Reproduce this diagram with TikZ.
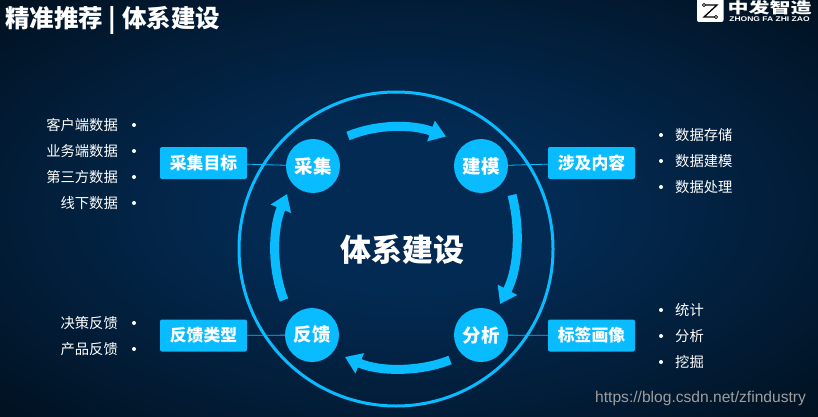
\documentclass[tikz,border=0pt]{standalone}
\usepackage{graphicx}
\usepackage{fontspec}
\setmainfont{Noto Sans CJK SC}
\setsansfont{Liberation Sans}
\usetikzlibrary{arrows.meta}
\definecolor{cyanb}{HTML}{08BCFF}
\definecolor{bgin}{HTML}{032A52}
\definecolor{bgout}{HTML}{000508}
\pgfdeclareradialshading{bgshade}{\pgfpoint{0bp}{0bp}}{color(0bp)=(bgin); color(10bp)=(bgin); color(24bp)=(bgout!35!bgin); color(38bp)=(bgout!75!bgin); color(50bp)=(bgout); color(100bp)=(bgout)}
\tikzset{
  x=1pt,y=-1pt,
  hub/.style={circle,fill=cyanb,minimum size=54pt,inner sep=0pt,text=white,font=\fontsize{18.5}{18.5}\selectfont\bfseries},
  tag/.style={rectangle,rounded corners=2pt,fill=cyanb,minimum width=87pt,minimum height=32pt,inner sep=0pt,text=white,font=\fontsize{16.8}{17}\selectfont\bfseries},
  link/.style={draw=cyanb,line width=0.8pt},
  flow/.style={draw=cyanb,line width=9pt,-{Triangle[length=16pt,width=21pt]}},
  lbl/.style={text=white,inner sep=0pt,font=\fontsize{14.3}{14.3}\selectfont},
  dot/.style={circle,fill=white,minimum size=4pt,inner sep=0pt},
}
\begin{document}
\begin{tikzpicture}
\useasboundingbox (0,0) rectangle (818,417);
\begin{scope}
\clip (0,0) rectangle (818,417);
\shade[shading=bgshade] (0,0) rectangle (818,417);

% big ring
\node[circle,draw=cyanb,line width=3pt,minimum size=314pt,inner sep=0pt] (ring) at (396,249) {};

% hubs
\node[hub] (cj) at (313,166) {采集};
\node[hub] (jm) at (481,166) {建模};
\node[hub] (fx) at (481,335) {分析};
\node[hub] (fk) at (312,335) {反馈};

% tags
\node[tag] (t1) at (203.5,163) {采集目标};
\node[tag] (t2) at (591.5,163) {涉及内容};
\node[tag] (t3) at (203.5,335.5) {反馈类型};
\node[tag] (t4) at (591.5,335.5) {标签画像};
\draw[link] (t1) -- (cj);
\draw[link] (t2) -- (jm);
\draw[link] (t3) -- (fk);
\draw[link] (t4) -- (fx);

% flow arrows
\coordinate (a1) at (348,136);
\coordinate (a2) at (446,136.5);
\coordinate (b1) at (512,195);
\coordinate (b2) at (500,304);
\coordinate (c1) at (450,360);
\coordinate (c2) at (345,357);
\coordinate (d1) at (284,300);
\coordinate (d2) at (287,194);
\draw[flow] (a1) .. controls (377,124) and (412,124) .. (a2);
\draw[flow] (b1) .. controls (521,230) and (518,270) .. (b2);
\draw[flow] (c1) .. controls (420,372) and (380,372) .. (c2);
\draw[flow] (d1) .. controls (272,270) and (272,230) .. (d2);

% centre title
\node[text=white,inner sep=0pt,font=\fontsize{31}{31}\selectfont\bfseries] (ctr) at (402,250) {体系建设};

% left lists
\node[lbl,anchor=east] (l1) at (118,125.5) {客户端数据};
\node[lbl,anchor=east] (l2) at (118,151.5) {业务端数据};
\node[lbl,anchor=east] (l3) at (118,177.5) {第三方数据};
\node[lbl,anchor=east] (l4) at (118,203.5) {线下数据};
\node[dot] at (134,125) {};
\node[dot] at (134,151) {};
\node[dot] at (134,177) {};
\node[dot] at (134,203) {};
\node[lbl,anchor=east] (l5) at (118,323.5) {决策反馈};
\node[lbl,anchor=east] (l6) at (118,349.5) {产品反馈};
\node[dot] at (134,323) {};
\node[dot] at (134,349) {};

% right lists
\node[dot] at (661,135) {};
\node[dot] at (661,161) {};
\node[dot] at (661,187) {};
\node[lbl,anchor=west] (r1) at (675,135.5) {数据存储};
\node[lbl,anchor=west] (r2) at (675,161.5) {数据建模};
\node[lbl,anchor=west] (r3) at (675,187.5) {数据处理};
\node[dot] at (661,310) {};
\node[dot] at (661,336) {};
\node[dot] at (661,362) {};
\node[lbl,anchor=west] (r4) at (675,310.5) {统计};
\node[lbl,anchor=west] (r5) at (675,336.5) {分析};
\node[lbl,anchor=west] (r6) at (675,362.5) {挖掘};

% page title
\node[text=white,inner sep=0pt,anchor=west,font=\fontsize{24.5}{25}\selectfont\bfseries] (title) at (5,20.5) {精准推荐 | 体系建设};

% logo
\fill[white,rounded corners=2pt] (697,-4) rectangle (723.5,22);
\draw[black,line width=1.3pt] (705,5) -- (717,5) -- (704,17) -- (715,17);
\fill[white,draw=black,line width=0.8pt] (704,5) circle (1.6) (716,17) circle (1.6);
\node[text=white,inner sep=0pt,anchor=center,font=\fontsize{15}{15}\selectfont\bfseries] (lg) at (769.5,7.5) {\scalebox{1.4}[1]{中发智造}};
\node[text=white,inner sep=0pt,anchor=center,font=\sffamily\bfseries\fontsize{6.8}{7}\selectfont] (lge) at (769.5,18.8) {\scalebox{1.25}[1]{ZHONG FA ZHI ZAO}};

% watermark
\node[text=white!62!black,inner sep=0pt,anchor=west,font=\sffamily\fontsize{15.6}{16}\selectfont] (wm) at (595,398) {https://blog.csdn.net/zfindustry};
\end{scope}
\end{tikzpicture}
\end{document}
